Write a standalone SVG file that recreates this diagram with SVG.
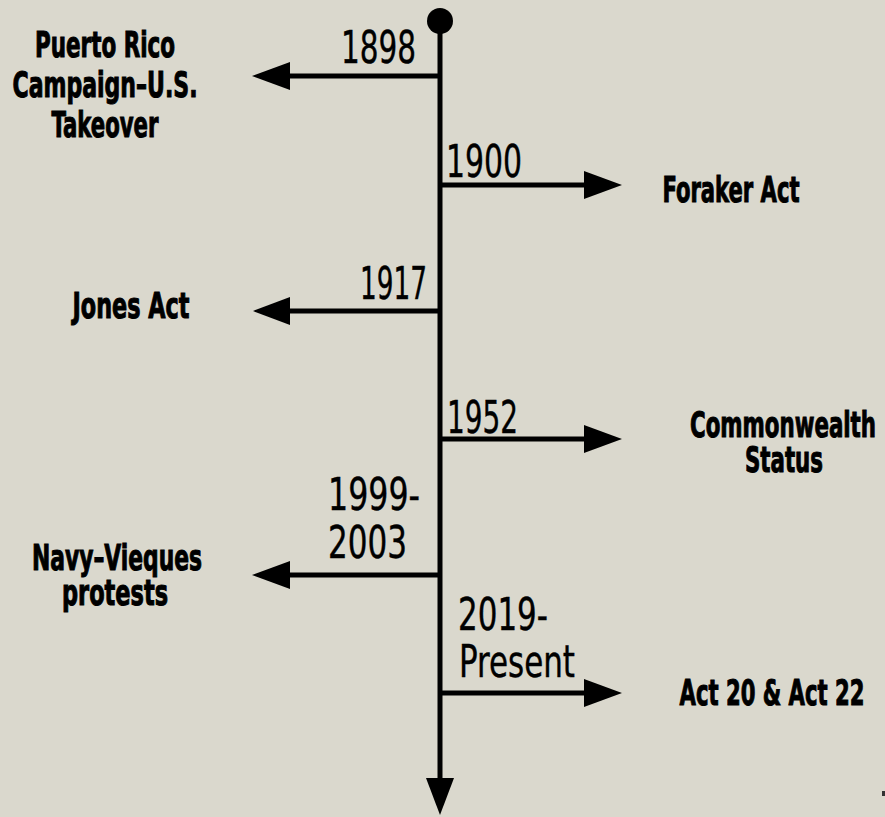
<svg xmlns="http://www.w3.org/2000/svg" width="885" height="817" viewBox="0 0 885 817">
  <defs>
    <style>
      .yr { font-family: "DejaVu Sans Condensed", "DejaVu Sans", sans-serif; font-size: 44px; fill: #000; stroke: #000; stroke-width: 0.4px; }
      .lb { font-family: "DejaVu Sans Condensed", "DejaVu Sans", sans-serif; font-weight: bold; font-size: 36px; fill: #000; stroke: #000; stroke-width: 1px; text-anchor: middle; }
      .ln { stroke: #000; stroke-width: 5; fill: none; }
      .ah { fill: #000; }
    </style>
  </defs>
  <rect x="0" y="0" width="885" height="817" fill="#dad8cd"/>

  <g id="connectors">
    <circle cx="440" cy="21" r="13" class="ah"/>
    <line class="ln" x1="440" y1="21" x2="440" y2="782"/>
    <polygon class="ah" points="426,778 454,778 440,815"/>

    <line class="ln" x1="440" y1="76" x2="286" y2="76"/>
    <polygon class="ah" points="252,76 290,62 290,90"/>

    <line class="ln" x1="440" y1="185" x2="588" y2="185"/>
    <polygon class="ah" points="622,185 584,171 584,199"/>

    <line class="ln" x1="440" y1="311" x2="286" y2="311"/>
    <polygon class="ah" points="253,311 290,297 290,325"/>

    <line class="ln" x1="440" y1="439" x2="588" y2="439"/>
    <polygon class="ah" points="622,439 584,425 584,453"/>

    <line class="ln" x1="440" y1="575" x2="286" y2="575"/>
    <polygon class="ah" points="252,575 290,561 290,589"/>

    <line class="ln" x1="440" y1="693" x2="588" y2="693"/>
    <polygon class="ah" points="622,693 584,679 584,707"/>
  </g>

  <g id="e1898">
    <text class="yr" x="341" y="63" textLength="75" lengthAdjust="spacingAndGlyphs">1898</text>
    <text class="lb" x="105" y="57" textLength="140" lengthAdjust="spacingAndGlyphs">Puerto Rico</text>
    <text class="lb" x="105" y="97" textLength="185" lengthAdjust="spacingAndGlyphs">Campaign–U.S.</text>
    <text class="lb" x="105" y="137" textLength="107" lengthAdjust="spacingAndGlyphs">Takeover</text>
  </g>

  <g id="e1900">
    <text class="yr" x="446" y="177" textLength="76" lengthAdjust="spacingAndGlyphs">1900</text>
    <text class="lb" x="731" y="202" textLength="137" lengthAdjust="spacingAndGlyphs">Foraker Act</text>
  </g>

  <g id="e1917">
    <text class="yr" x="360" y="299" textLength="67" lengthAdjust="spacingAndGlyphs">1917</text>
    <text class="lb" x="131" y="318" textLength="117" lengthAdjust="spacingAndGlyphs">Jones Act</text>
  </g>

  <g id="e1952">
    <text class="yr" x="447" y="433" textLength="71" lengthAdjust="spacingAndGlyphs">1952</text>
    <text class="lb" x="783" y="437" textLength="186" lengthAdjust="spacingAndGlyphs">Commonwealth</text>
    <text class="lb" x="784" y="472" textLength="78" lengthAdjust="spacingAndGlyphs">Status</text>
  </g>

  <g id="e1999">
    <text class="yr" x="328" y="510" textLength="92" lengthAdjust="spacingAndGlyphs">1999-</text>
    <text class="yr" x="328" y="558" textLength="79" lengthAdjust="spacingAndGlyphs">2003</text>
    <text class="lb" x="117" y="570" textLength="170" lengthAdjust="spacingAndGlyphs">Navy–Vieques</text>
    <text class="lb" x="115" y="605" textLength="106" lengthAdjust="spacingAndGlyphs">protests</text>
  </g>

  <g id="e2019">
    <text class="yr" x="458" y="630" textLength="90" lengthAdjust="spacingAndGlyphs">2019-</text>
    <text class="yr" x="459" y="677" textLength="116" lengthAdjust="spacingAndGlyphs">Present</text>
    <text class="lb" x="772" y="705" textLength="185" lengthAdjust="spacingAndGlyphs">Act 20 &amp; Act 22</text>
  </g>

  <rect x="882" y="791" width="3" height="5" fill="#333"/>
</svg>
